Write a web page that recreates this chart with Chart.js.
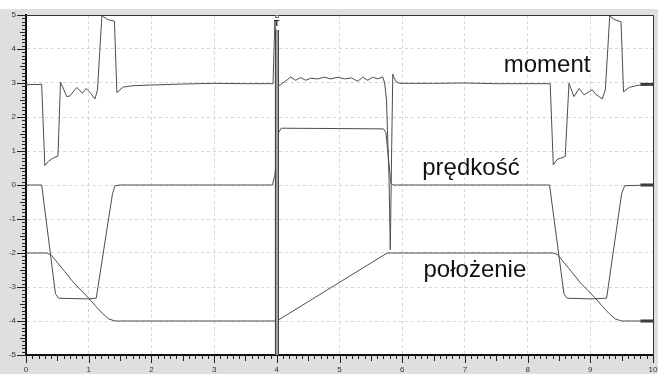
<!DOCTYPE html>
<html lang="pl">
<head>
  <meta charset="UTF-8">
  <title>moment / prędkość / położenie</title>
  <script src="https://cdn.jsdelivr.net/npm/chart.js"></script>
  <style>
    html, body { margin: 0; padding: 0; background: #fff; }
    #wrap { width: 658px; height: 374px; }
  </style>
</head>
<body>
  <div id="wrap"><canvas id="plot" width="658" height="374"></canvas></div>

  <script>
    // time axis 0..10 s
    const momentT = [0, 0.25, 0.30, 0.36, 0.44, 0.51, 0.55, 0.65, 0.70, 0.81, 0.90, 0.96, 1.03, 1.10, 1.14, 1.21, 1.31, 1.41, 1.45, 1.55, 1.70, 2.0, 2.5, 3.0, 3.5, 3.94, 3.97, 4.0,
      4.06, 4.17, 4.22, 4.30, 4.38, 4.46, 4.54, 4.65, 4.76, 4.86, 4.97, 5.08, 5.19, 5.29, 5.37, 5.45, 5.53, 5.61, 5.69, 5.72, 5.75, 5.77, 5.79, 5.81, 5.83, 5.85, 5.87, 5.91, 5.96,
      6.5, 7.0, 7.5, 8.0, 8.36, 8.41, 8.47, 8.60, 8.66, 8.74, 8.82, 8.90, 9.03, 9.08, 9.19, 9.24, 9.31, 9.38, 9.49, 9.53, 9.62, 9.75, 10];
    const momentV = [2.95, 2.96, 0.57, 0.7, 0.8, 0.85, 3.03, 2.6, 2.62, 2.87, 2.7, 2.84, 2.7, 2.53, 2.8, 4.98, 4.86, 4.82, 2.72, 2.88, 2.92, 2.94, 2.97, 2.99, 2.98, 2.98, 4.85, 2.9,
      2.95, 3.1, 3.18, 3.08, 3.16, 3.08, 3.14, 3.12, 3.17, 3.12, 3.17, 3.12, 3.15, 3.05, 3.17, 3.08, 3.17, 3.12, 3.18, 3.0, 2.5, 1.3, 0.2, -1.9, 0.8, 3.26, 3.15, 3.03, 2.99,
      2.99, 3.0, 2.98, 2.98, 2.98, 0.59, 0.75, 0.84, 2.99, 2.6, 2.84, 2.65, 2.8, 2.68, 2.53, 2.8, 4.97, 4.87, 4.8, 2.74, 2.87, 2.93, 2.96];

    const speedT = [0, 0.25, 0.47, 0.52, 0.7, 1.0, 1.12, 1.38, 1.42, 1.5, 3.93, 3.97, 4.03, 4.07, 5.0, 5.70, 5.74, 5.82, 5.86, 8.35, 8.58, 8.63, 9.0, 9.26, 9.50, 9.55, 10];
    const speedV = [0, 0, -3.2, -3.33, -3.34, -3.35, -3.33, -0.25, -0.02, 0, 0, 0.3, 1.55, 1.67, 1.66, 1.65, 1.55, 0.05, 0, 0, -3.2, -3.33, -3.35, -3.33, -0.25, -0.02, 0];

    const posT = [0, 0.33, 0.40, 0.50, 0.62, 0.75, 0.88, 1.0, 1.12, 1.22, 1.32, 1.42, 4.0, 5.76, 8.41, 8.48, 8.58, 8.70, 8.83, 8.96, 9.08, 9.20, 9.30, 9.40, 9.50, 10];
    const posV = [-2, -2, -2.05, -2.28, -2.55, -2.85, -3.1, -3.33, -3.58, -3.78, -3.94, -4, -4, -2, -2, -2.05, -2.28, -2.55, -2.85, -3.1, -3.33, -3.58, -3.78, -3.94, -4, -4];

    const seriesNames = ['moment', 'prędkość', 'położenie'];
    const labelAt = [[7.62, 3.33], [6.32, 0.29], [6.34, -2.72]];
    const endMarkT = [9.8, 10];
    const cursorT = 4;

    const toPts = (ts, vs) => ts.map((t, i) => ({ x: t, y: vs[i] }));
    const lastOf = a => a[a.length - 1];

    const lineStyle = { borderColor: '#4d4d4d', borderWidth: 1, pointRadius: 0, tension: 0, fill: false };
    const markStyle = { borderColor: '#333', borderWidth: 3, pointRadius: 0, fill: false };

    // background, frame, minor ticks, cursor and curve names
    const scopePlugin = {
      id: 'scope',
      beforeDraw(chart) {
        const { ctx, chartArea: a } = chart;
        ctx.save();
        ctx.fillStyle = '#fff';
        ctx.fillRect(0, 0, chart.width, chart.height);
        ctx.fillStyle = '#dfdfdf';
        ctx.fillRect(0, 9, chart.width, chart.height - 9);
        ctx.fillStyle = '#fff';
        ctx.fillRect(a.left, a.top, a.right - a.left, a.bottom - a.top);
        ctx.restore();
      },
      afterDraw(chart) {
        const { ctx, chartArea: a } = chart;
        const xs = chart.scales.x, ys = chart.scales.y;
        ctx.save();
        // frame top / right
        ctx.strokeStyle = '#333';
        ctx.lineWidth = 1;
        ctx.beginPath();
        ctx.moveTo(a.left, a.top + 0.5); ctx.lineTo(a.right + 0.5, a.top + 0.5);
        ctx.lineTo(a.right + 0.5, a.bottom);
        ctx.stroke();

        // minor ticks
        ctx.strokeStyle = '#222';
        ctx.beginPath();
        for (let i = -50; i <= 50; i++) {
          const len = i % 10 === 0 ? 9 : (i % 5 === 0 ? 6 : 4);
          const py = Math.round(ys.getPixelForValue(i / 10)) + 0.5;
          ctx.moveTo(a.left - len, py); ctx.lineTo(a.left, py);
        }
        for (let i = 0; i <= 100; i++) {
          const len = i % 10 === 0 ? 8 : (i % 5 === 0 ? 6 : 4);
          const px = Math.round(xs.getPixelForValue(i / 10)) + 0.5;
          ctx.moveTo(px, a.bottom); ctx.lineTo(px, a.bottom + len);
        }
        ctx.stroke();

        // cursor T
        const cx = xs.getPixelForValue(cursorT);
        ctx.fillStyle = '#a0a0a0';
        ctx.fillRect(cx - 2, a.top + 15, 4, a.bottom - a.top - 15);
        ctx.strokeStyle = '#444';
        ctx.beginPath();
        ctx.moveTo(Math.round(cx - 2) + 0.5, a.top + 15); ctx.lineTo(Math.round(cx - 2) + 0.5, a.bottom);
        ctx.moveTo(Math.round(cx + 2) - 0.5, a.top + 15); ctx.lineTo(Math.round(cx + 2) - 0.5, a.bottom);
        ctx.stroke();
        ctx.strokeStyle = '#777';
        ctx.strokeRect(Math.round(cx) - 1.5, a.top + 0.5, 3, 2);
        ctx.fillStyle = '#222';
        ctx.font = 'bold 9px "Liberation Sans", Arial, sans-serif';
        ctx.textAlign = 'center';
        ctx.textBaseline = 'middle';
        ctx.fillText('T', cx, a.top + 9);

        // curve names
        ctx.font = '24px "Liberation Sans", Arial, sans-serif';
        ctx.textAlign = 'left';
        ctx.textBaseline = 'alphabetic';
        ctx.fillStyle = '#111';
        seriesNames.forEach((name, i) => {
          ctx.fillText(name, xs.getPixelForValue(labelAt[i][0]), ys.getPixelForValue(labelAt[i][1]));
        });
        ctx.restore();
      }
    };

    new Chart(document.getElementById('plot'), {
      type: 'line',
      data: {
        datasets: [
          { label: seriesNames[0], data: toPts(momentT, momentV), ...lineStyle },
          { label: seriesNames[1], data: toPts(speedT, speedV), ...lineStyle },
          { label: seriesNames[2], data: toPts(posT, posV), ...lineStyle },
          { label: 'end1', data: toPts(endMarkT, [lastOf(momentV), lastOf(momentV)]), ...markStyle },
          { label: 'end2', data: toPts(endMarkT, [lastOf(speedV), lastOf(speedV)]), ...markStyle },
          { label: 'end3', data: toPts(endMarkT, [lastOf(posV), lastOf(posV)]), ...markStyle }
        ]
      },
      options: {
        responsive: false,
        animation: false,
        devicePixelRatio: 1,
        layout: { padding: { top: 15, right: 5, left: 0, bottom: 0 } },
        plugins: { legend: { display: false }, tooltip: { enabled: false } },
        scales: {
          x: {
            type: 'linear', min: 0, max: 10,
            afterFit(s) { s.height = 19; s.paddingLeft = 0; s.paddingRight = 0; },
            border: { color: '#111', width: 2, dash: [3, 3] },
            grid: { color: '#d6d6d6', drawTicks: false },
            ticks: { stepSize: 1, padding: 10, color: '#333', font: { size: 8, family: '"Liberation Sans", Arial, sans-serif' } }
          },
          y: {
            min: -5, max: 5,
            afterFit(s) { s.width = 26; s.paddingTop = 0; s.paddingBottom = 0; },
            border: { color: '#111', width: 2, dash: [3, 3] },
            grid: { color: '#d6d6d6', drawTicks: false },
            ticks: { stepSize: 1, padding: 10, color: '#333', font: { size: 8, family: '"Liberation Sans", Arial, sans-serif' } }
          }
        }
      },
      plugins: [scopePlugin]
    });
  </script>
</body>
</html>
